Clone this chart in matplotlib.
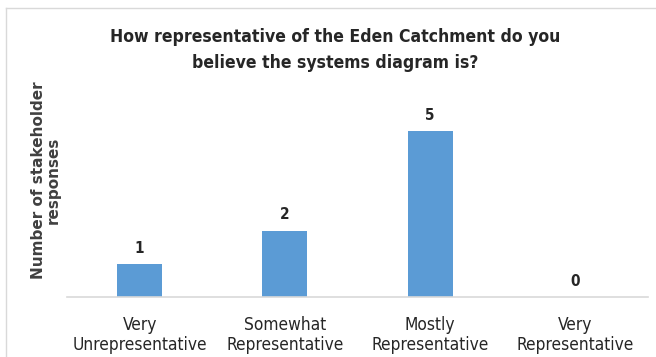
import matplotlib.pyplot as plt
from matplotlib.lines import Line2D

# Data
categories = ['Very\nUnrepresentative', 'Somewhat\nRepresentative', 'Mostly\nRepresentative', 'Very\nRepresentative']
responses = [1, 2, 5, 0]

plt.rcParams['font.family'] = ['DejaVu Sans']
plt.rcParams['font.stretch'] = 'condensed'

fig = plt.figure(figsize=(6.56, 3.57), dpi=100)
ax = fig.add_axes([67 / 656, 1 - 297 / 357, 581 / 656, 199 / 357])

bars = ax.bar(range(len(categories)), responses, width=0.31, color='#5B9BD5')
for i, v in enumerate(responses):
    ax.text(i, v + 0.25, str(v), ha='center', va='bottom', fontsize=11, fontweight='bold', color='#262626')

ax.set_xlim(-0.5, 3.5)
ax.set_ylim(0, 6)
ax.set_xticks(range(len(categories)))
ax.set_xticklabels(categories, fontsize=12.4, color='#262626', linespacing=1.1)
ax.tick_params(axis='x', length=0, pad=14)
ax.set_yticks([])
for s in ['top', 'right', 'left']:
    ax.spines[s].set_visible(False)
ax.spines['bottom'].set_color('#d9d9d9')
ax.spines['bottom'].set_linewidth(1.2)

fig.text(335 / 656, 1 - 50 / 357, 'How representative of the Eden Catchment do you\nbelieve the systems diagram is?',
         ha='center', va='center', fontsize=12.6, fontweight='bold', color='#262626', linespacing=1.55)
fig.text(46 / 656, 1 - 180 / 357, 'Number of stakeholder\nresponses', rotation=90, ha='center', va='center',
         fontsize=11, fontweight='bold', color='#404040', fontstretch='normal', linespacing=1.0)

# outer chart frame
fig.add_artist(Line2D([6 / 656, 1], [1 - 8 / 357, 1 - 8 / 357], color='#d9d9d9', lw=1, transform=fig.transFigure))
fig.add_artist(Line2D([6 / 656, 6 / 656], [0, 1 - 8 / 357], color='#d9d9d9', lw=1, transform=fig.transFigure))

fig.savefig('out.png', dpi=100)
